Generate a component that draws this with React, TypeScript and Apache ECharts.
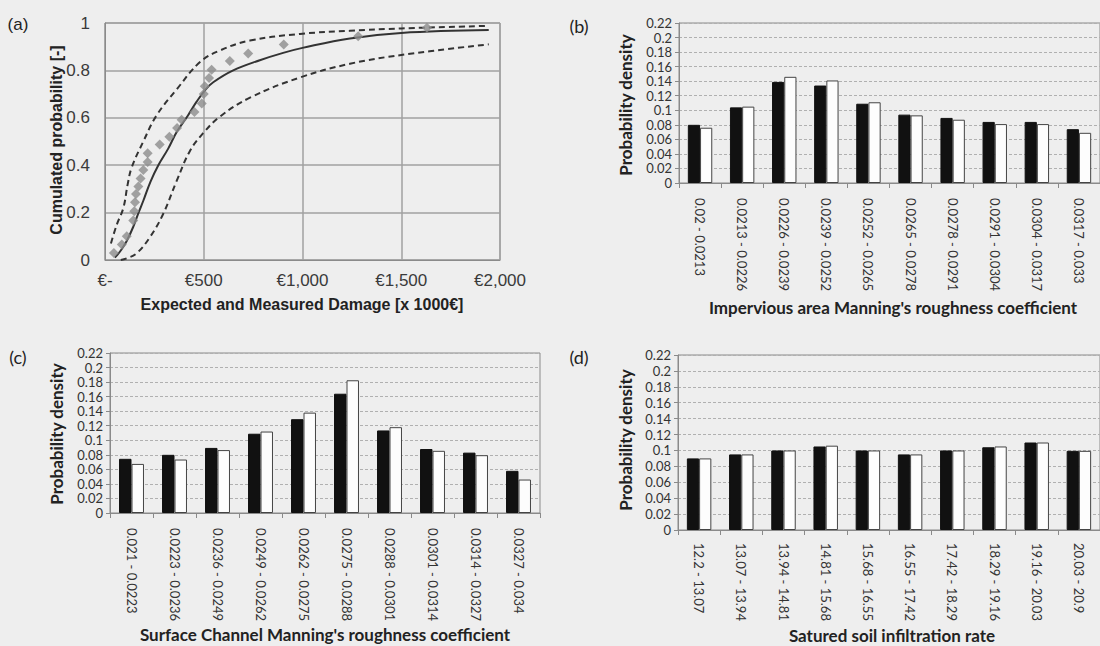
import React, { useEffect, useRef } from "react";
import * as echarts from "echarts";

// ---------- Panel (a) data ----------
const damageTicks = [0, 500, 1000, 1500, 2000];
const probabilityTicks = [0, 0.2, 0.4, 0.6, 0.8, 1];
const expectedCurve: number[][] = [
  [50, 0.01], [80, 0.04], [110, 0.08], [143, 0.14], [170, 0.2], [194, 0.25],
  [230, 0.33], [270, 0.4], [320, 0.47], [363, 0.54], [420, 0.61], [464, 0.668],
  [510, 0.72], [548, 0.75], [649, 0.8], [784, 0.843], [902, 0.874], [1000, 0.895],
  [1240, 0.935], [1500, 0.958], [1943, 0.97],
];
const upperBound: number[][] = [
  [30, 0.07], [60, 0.15], [93, 0.22], [115, 0.32], [135, 0.39], [194, 0.5],
  [261, 0.61], [363, 0.72], [481, 0.835], [582, 0.884], [734, 0.926],
  [987, 0.954], [1240, 0.967], [1500, 0.977], [1943, 0.988],
];
const lowerBound: number[][] = [
  [80, 0.0], [110, 0.007], [160, 0.028], [228, 0.097], [295, 0.195],
  [363, 0.334], [430, 0.46], [497, 0.535], [582, 0.605], [734, 0.685],
  [987, 0.77], [1240, 0.828], [1500, 0.865], [1943, 0.91],
];
const measuredDamage: number[][] = [
  [45, 0.03], [85, 0.065], [110, 0.1], [143, 0.167], [148, 0.206], [152, 0.244],
  [157, 0.279], [169, 0.31], [180, 0.344], [194, 0.38], [216, 0.414], [216, 0.45],
  [277, 0.487], [326, 0.52], [365, 0.557], [388, 0.592], [453, 0.625], [490, 0.66],
  [500, 0.7], [505, 0.733], [527, 0.768], [540, 0.803], [632, 0.84], [725, 0.871],
  [905, 0.909], [1282, 0.944], [1630, 0.98],
];

// ---------- Panel (b) data ----------
const imperviousCats = [
  "0.02 - 0.0213", "0.0213 - 0.0226", "0.0226 - 0.0239", "0.0239 - 0.0252",
  "0.0252 - 0.0265", "0.0265 - 0.0278", "0.0278 - 0.0291", "0.0291 - 0.0304",
  "0.0304 - 0.0317", "0.0317 - 0.033",
];
const imperviousBlack = [0.08, 0.104, 0.139, 0.134, 0.109, 0.094, 0.0895, 0.084, 0.084, 0.074];
const imperviousWhite = [0.076, 0.105, 0.146, 0.141, 0.111, 0.093, 0.087, 0.081, 0.081, 0.069];

// ---------- Panel (c) data ----------
const surfaceCats = [
  "0.021 - 0.0223", "0.0223 - 0.0236", "0.0236 - 0.0249", "0.0249 - 0.0262",
  "0.0262 - 0.0275", "0.0275 - 0.0288", "0.0288 - 0.0301", "0.0301 - 0.0314",
  "0.0314 - 0.0327", "0.0327 - 0.034",
];
const surfaceBlack = [0.0745, 0.08, 0.0895, 0.109, 0.129, 0.164, 0.1135, 0.088, 0.083, 0.058];
const surfaceWhite = [0.0675, 0.0735, 0.0865, 0.112, 0.138, 0.1825, 0.118, 0.0855, 0.0795, 0.046];

// ---------- Panel (d) data ----------
const soilCats = [
  "12.2 - 13.07", "13.07 - 13.94", "13.94 - 14.81", "14.81 - 15.68",
  "15.68 - 16.55", "16.55 - 17.42", "17.42 - 18.29", "18.29 - 19.16",
  "19.16 - 20.03", "20.03 - 20.9",
];
const soilBlack = [0.09, 0.095, 0.1, 0.105, 0.1, 0.095, 0.1, 0.104, 0.11, 0.0995];
const soilWhite = [0.09, 0.095, 0.1, 0.106, 0.1, 0.095, 0.1, 0.105, 0.11, 0.0995];

const densityMax = 0.22;
const densityStep = 0.02;

const ARIAL = '"Liberation Sans", Arial, sans-serif';
const CALIBRI = 'Lato, "Open Sans", sans-serif';

export default function App() {
  const ref = useRef<HTMLDivElement>(null);

  useEffect(() => {
    if (!ref.current) return;
    const chart = echarts.init(ref.current, undefined, { renderer: "svg" });

    const grids = [
      { left: 105, top: 23, width: 395, height: 237 },
      { left: 679, top: 23, width: 428, height: 160 },
      { left: 110, top: 353, width: 430, height: 160 },
      { left: 678, top: 355, width: 429, height: 175 },
    ].map((g) => ({ ...g, show: true, borderColor: "#8a8a8a", borderWidth: 1 }));

    const barX = (idx: number, cats: string[], margin: number) => ({
      type: "category",
      gridIndex: idx,
      data: cats,
      axisLine: { show: true, lineStyle: { color: "#8a8a8a" } },
      axisTick: { show: true, length: 5, lineStyle: { color: "#8a8a8a" } },
      axisLabel: {
        interval: 0,
        rotate: -90,
        margin,
        fontFamily: CALIBRI,
        fontSize: 13,
        color: "#333",
      },
      splitLine: { show: false },
    });

    const barY = (idx: number) => ({
      type: "value",
      gridIndex: idx,
      min: 0,
      max: densityMax,
      interval: densityStep,
      axisLine: { show: true, lineStyle: { color: "#8a8a8a" } },
      axisTick: { show: true, length: 4, lineStyle: { color: "#8a8a8a" } },
      axisLabel: {
        margin: 7,
        fontFamily: CALIBRI,
        fontSize: 13,
        lineHeight: 13,
        color: "#333",
        formatter: (v: number) => String(+v.toFixed(2)),
      },
      splitLine: { show: true, lineStyle: { color: "#b0b0b0", type: [3, 2], width: 1 } },
    });

    const barPair = (idx: number, black: number[], white: number[]) => [
      {
        type: "bar",
        name: "black",
        xAxisIndex: idx,
        yAxisIndex: idx,
        data: black,
        barGap: "0%",
        barCategoryGap: "42%",
        itemStyle: { color: "#111", borderColor: "#111", borderWidth: 1 },
      },
      {
        type: "bar",
        name: "white",
        xAxisIndex: idx,
        yAxisIndex: idx,
        data: white,
        barGap: "0%",
        barCategoryGap: "42%",
        itemStyle: { color: "#fdfdfd", borderColor: "#444", borderWidth: 1 },
      },
    ];

    const title = (
      text: string,
      x: number,
      y: number,
      font: string,
      rotate = false
    ) => ({
      type: "text",
      x,
      y,
      rotation: rotate ? Math.PI / 2 : 0,
      style: {
        text,
        x: 0,
        y: 0,
        font,
        fill: "#222",
        align: "center",
        verticalAlign: "middle",
      },
    });

    chart.setOption({
      animation: false,
      backgroundColor: "#eeeeee",
      grid: grids,
      xAxis: [
        {
          type: "value",
          gridIndex: 0,
          min: damageTicks[0],
          max: damageTicks[damageTicks.length - 1],
          interval: damageTicks[1] - damageTicks[0],
          axisLine: { show: true, lineStyle: { color: "#8a8a8a" } },
          axisTick: { show: false },
          axisLabel: {
            margin: 12,
            fontFamily: ARIAL,
            fontSize: 17,
            color: "#3a3a3a",
            formatter: (v: number) =>
              v === 0 ? "€-" : "€" + v.toLocaleString("en-US"),
          },
          splitLine: { show: true, lineStyle: { color: "#a0a0a0", width: 1.5 } },
        },
        barX(1, imperviousCats, 15),
        barX(2, surfaceCats, 15),
        barX(3, soilCats, 13),
      ],
      yAxis: [
        {
          type: "value",
          gridIndex: 0,
          min: probabilityTicks[0],
          max: probabilityTicks[probabilityTicks.length - 1],
          interval: probabilityTicks[1] - probabilityTicks[0],
          axisLine: { show: true, lineStyle: { color: "#8a8a8a" } },
          axisTick: { show: false },
          axisLabel: {
            margin: 15,
            fontFamily: ARIAL,
            fontSize: 17,
            color: "#3a3a3a",
            formatter: (v: number) => String(+v.toFixed(1)),
          },
          splitLine: { show: true, lineStyle: { color: "#a0a0a0", width: 1.5 } },
        },
        barY(1),
        barY(2),
        barY(3),
      ],
      series: [
        {
          type: "line",
          name: "Expected",
          xAxisIndex: 0,
          yAxisIndex: 0,
          data: expectedCurve,
          smooth: 0.4,
          showSymbol: false,
          lineStyle: { color: "#333", width: 2 },
        },
        {
          type: "line",
          name: "Upper bound",
          xAxisIndex: 0,
          yAxisIndex: 0,
          data: upperBound,
          smooth: 0.4,
          showSymbol: false,
          lineStyle: { color: "#333", width: 2, type: [6, 4] },
        },
        {
          type: "line",
          name: "Lower bound",
          xAxisIndex: 0,
          yAxisIndex: 0,
          data: lowerBound,
          smooth: 0.4,
          showSymbol: false,
          lineStyle: { color: "#333", width: 2, type: [6, 4] },
        },
        {
          type: "scatter",
          name: "Measured",
          xAxisIndex: 0,
          yAxisIndex: 0,
          data: measuredDamage,
          symbol: "diamond",
          symbolSize: 10,
          itemStyle: { color: "#8c8c8c" },
          z: 3,
        },
        ...barPair(1, imperviousBlack, imperviousWhite),
        ...barPair(2, surfaceBlack, surfaceWhite),
        ...barPair(3, soilBlack, soilWhite),
      ],
      graphic: [
        title("(a)", 18, 24, `17px ${ARIAL}`),
        title("(b)", 579, 26, `18px ${CALIBRI}`),
        title("(c)", 18, 357, `18px ${CALIBRI}`),
        title("(d)", 579, 357, `18px ${CALIBRI}`),
        title("Cumulated probability [-]", 56, 140, `bold 16px ${ARIAL}`, true),
        title("Expected and Measured Damage [x 1000€]", 302, 304, `bold 16px ${ARIAL}`),
        title("Probability density", 625, 105, `bold 17px ${CALIBRI}`, true),
        title("Impervious area Manning's roughness coefficient", 893, 307, `bold 17px ${CALIBRI}`),
        title("Probability density", 56, 434, `bold 17px ${CALIBRI}`, true),
        title("Surface Channel Manning's roughness coefficient", 325, 634, `bold 17px ${CALIBRI}`),
        title("Probability density", 625, 440, `bold 17px ${CALIBRI}`, true),
        title("Satured soil infiltration rate", 892, 635, `bold 17px ${CALIBRI}`),
      ],
    });

    return () => chart.dispose();
  }, []);

  return (
    <div
      ref={ref}
      style={{ position: "fixed", left: 0, top: 0, width: 1100, height: 646 }}
    />
  );
}
